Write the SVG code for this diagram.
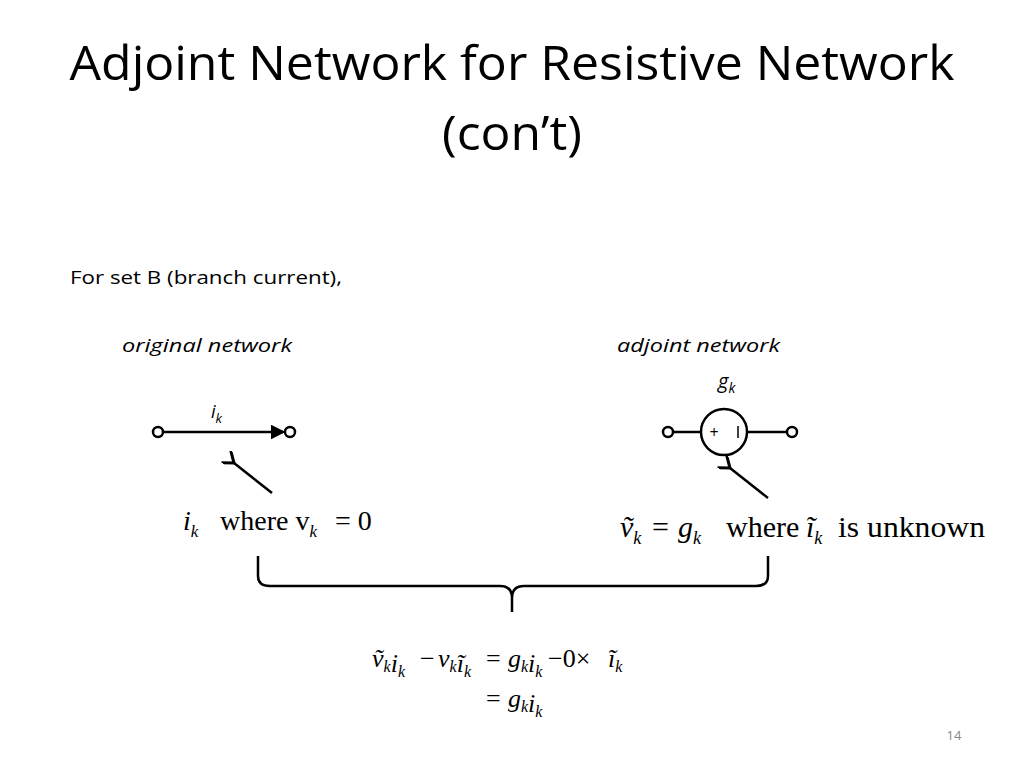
<svg xmlns="http://www.w3.org/2000/svg" width="1024" height="768" viewBox="0 0 1024 768">
<style>
.t{font-family:"Open Sans","Liberation Sans",sans-serif;fill:#000}
.m{font-family:"Liberation Serif",serif;fill:#000}
.i{font-style:italic}
.w{stroke:#000;stroke-width:2.5;fill:none}
.n{stroke:#000;stroke-width:2.5;fill:#fff}
</style>
<defs>
<marker id="ah" markerWidth="6" markerHeight="6" refX="5" refY="3" orient="auto" markerUnits="strokeWidth"><path d="M0,0 L6,3 L0,6 Z" fill="#000"/></marker>
<marker id="ah2" markerWidth="6" markerHeight="6" refX="1" refY="3" orient="auto" markerUnits="strokeWidth"><path d="M5,0 L1,3 L5,6" stroke="#000" stroke-width="1.2" fill="none"/></marker>
</defs>
<rect width="1024" height="768" fill="#fff"/>
<text class="t" x="512" y="80" font-size="48" text-anchor="middle" textLength="885" lengthAdjust="spacingAndGlyphs">Adjoint Network for Resistive Network</text>
<text class="t" x="512" y="150" font-size="48" text-anchor="middle" textLength="140" lengthAdjust="spacingAndGlyphs">(con’t)</text>
<text class="t" x="70" y="284" font-size="18" textLength="272" lengthAdjust="spacingAndGlyphs">For set B (branch current),</text>
<text class="t i" x="122" y="352" font-size="19" textLength="170" lengthAdjust="spacingAndGlyphs">original network</text>
<text class="t i" x="617" y="352" font-size="19" textLength="163" lengthAdjust="spacingAndGlyphs">adjoint network</text>
<g id="orig">
<line class="w" x1="163" y1="432" x2="283" y2="432" marker-end="url(#ah)"/>
<circle class="n" cx="158" cy="432" r="5"/>
<circle class="n" cx="290" cy="432" r="5"/>
<text class="t i" x="211" y="418" font-size="18">i<tspan font-size="13" dy="5">k</tspan></text>
</g>
<g id="adj">
<line class="w" x1="673" y1="432" x2="701" y2="432"/>
<line class="w" x1="747" y1="432" x2="787" y2="432"/>
<circle class="n" cx="668" cy="432" r="5"/>
<circle class="n" cx="792" cy="432" r="5"/>
<circle class="w" cx="724" cy="432" r="23"/>
<text class="t" x="714" y="438" font-size="16" text-anchor="middle">+</text>
<line stroke="#000" stroke-width="1.5" x1="738" y1="426" x2="738" y2="438"/>
<text class="t i" x="718" y="388" font-size="20">g<tspan font-size="14" dy="5">k</tspan></text>
</g>
<g id="connectors">
<line class="w" stroke-width="4" x1="272" y1="493" x2="234" y2="463" marker-start="none" marker-end="url(#ah2)"/>
<line class="w" stroke-width="4" x1="768" y1="498" x2="730" y2="468" marker-end="url(#ah2)"/>
<path class="w" stroke-width="4" d="M258,556 L258,576 Q258,586 270,586 L500,586 Q512,586 512,598 L512,612 M512,598 Q512,586 524,586 L756,586 Q768,586 768,576 L768,556"/>
</g>
<g class="m" font-size="28">
<text x="183" y="530" class="i">i<tspan font-size="17" dy="7">k</tspan></text>
<text x="220" y="530">where v<tspan class="i" font-size="17" dy="7">k</tspan></text>
<text x="335" y="530">= 0</text>
</g>
<g class="m" font-size="30">
<text x="620" y="537" class="i">ṽ<tspan font-size="18" dy="7">k</tspan></text>
<text x="652" y="537">=</text>
<text x="678" y="537" class="i">g<tspan font-size="18" dy="7">k</tspan></text>
<text x="726" y="537">where</text>
<text x="806" y="537" class="i">ĩ<tspan font-size="18" dy="7">k</tspan></text>
<text x="838" y="537" textLength="147" lengthAdjust="spacingAndGlyphs">is unknown</text>
</g>
<g class="m" font-size="26">
<text x="372" y="667" class="i">ṽ<tspan font-size="16" dy="5">k</tspan>i<tspan font-size="16" dy="5">k</tspan></text>
<text x="420" y="667">−</text>
<text x="438" y="667" class="i">v<tspan font-size="16" dy="5">k</tspan>ĩ<tspan font-size="16" dy="5">k</tspan></text>
<text x="486" y="667">=</text>
<text x="508" y="667" class="i">g<tspan font-size="16" dy="5">k</tspan>i<tspan font-size="16" dy="5">k</tspan></text>
<text x="548" y="667">−0×</text>
<text x="608" y="667" class="i">ĩ<tspan font-size="16" dy="5">k</tspan></text>
<text x="486" y="707">=</text>
<text x="508" y="707" class="i">g<tspan font-size="16" dy="5">k</tspan>i<tspan font-size="16" dy="5">k</tspan></text>
</g>
<text x="954" y="740" font-family="Open Sans, sans-serif" font-size="13" fill="#888" text-anchor="middle">14</text>
</svg>
